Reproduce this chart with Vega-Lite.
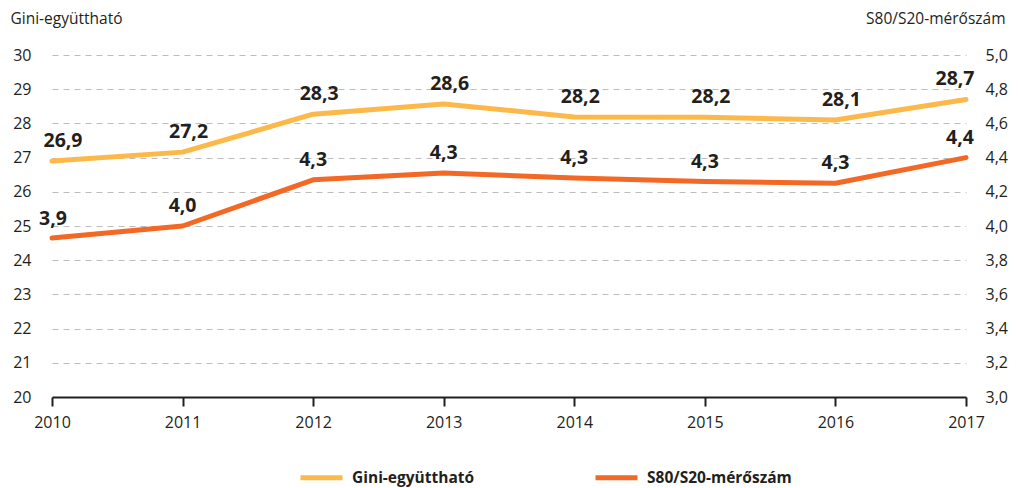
{
  "$schema": "https://vega.github.io/schema/vega-lite/v6.json",
  "autosize": "none",
  "width": 914,
  "height": 342,
  "padding": {"left": 52, "top": 55, "right": 52, "bottom": 91},
  "background": "white",
  "config": {
    "locale": {"number": {"decimal": ",", "thousands": " ", "grouping": [3], "currency": ["", ""]}},
    "font": "Open Sans",
    "view": {"stroke": null}
  },
  "data": {"values": [
    {"year": 2010, "gini": 26.9, "s80": 3.93},
    {"year": 2011, "gini": 27.16, "s80": 4.0},
    {"year": 2012, "gini": 28.27, "s80": 4.27},
    {"year": 2013, "gini": 28.57, "s80": 4.31},
    {"year": 2014, "gini": 28.19, "s80": 4.28},
    {"year": 2015, "gini": 28.18, "s80": 4.26},
    {"year": 2016, "gini": 28.1, "s80": 4.25},
    {"year": 2017, "gini": 28.7, "s80": 4.4}
  ]},
  "encoding": {
    "x": {"field": "year", "type": "quantitative", "scale": {"domain": [2010, 2017], "nice": false, "zero": false},
      "axis": {"title": null, "values": [2010, 2011, 2012, 2013, 2014, 2015, 2016, 2017], "format": "d", "grid": false, "labelFlush": false,
        "labelFont": "Open Sans", "labelFontSize": 16, "labelColor": "#231F20",
        "domainColor": "#231F20", "domainWidth": 2, "tickColor": "#231F20", "tickWidth": 2, "tickSize": 9, "labelPadding": 8}}
  },
  "layer": [
    {
      "encoding": {
        "y": {"field": "gini", "type": "quantitative", "scale": {"domain": [20, 30], "nice": false, "zero": false},
          "axis": {"orient": "left", "title": "Gini-együttható", "titleFont": "Open Sans", "titleFontSize": 15.5, "titleFontWeight": "normal", "titleColor": "#231F20",
            "titleAngle": 0, "titleAlign": "left", "titleBaseline": "middle", "titleX": -42, "titleY": -37,
            "labelFont": "Open Sans", "labelFontSize": 16, "labelColor": "#231F20",
            "values": [20, 21, 22, 23, 24, 25, 26, 27, 28, 29, 30], "format": "d", "domain": false, "ticks": false, "labelPadding": 21,
            "grid": true, "gridColor": "#BDBDBD", "gridDash": [6, 5], "gridWidth": 1}}
      },
      "layer": [
        {"mark": {"type": "line", "strokeWidth": 5, "strokeCap": "round", "strokeJoin": "round"},
          "encoding": {"color": {"datum": "Gini-együttható", "type": "nominal", "scale": {"domain": ["Gini-együttható", "S80/S20-mérőszám"], "range": ["#FDB84A", "#F26824"]},
            "legend": {"title": null, "orient": "none", "legendX": 246, "legendY": 399, "direction": "horizontal", "symbolType": "stroke", "symbolSize": 1764, "symbolStrokeWidth": 5, "labelFont": "Open Sans", "labelFontWeight": "bold", "labelFontSize": 15.5, "labelColor": "#231F20", "labelOffset": 7, "columnPadding": 110}}}},
        {"transform": [{"filter": "datum.year == 2010"}], "mark": {"type": "text", "fontWeight": "bold", "fontSize": 19.5, "color": "#231F20", "dy": -14, "dx": 11, "baseline": "alphabetic"}, "encoding": {"text": {"field": "gini", "type": "quantitative", "format": ".1f"}}},
        {"transform": [{"filter": "datum.year > 2010 && datum.year < 2017"}], "mark": {"type": "text", "fontWeight": "bold", "fontSize": 19.5, "color": "#231F20", "dy": -14, "dx": 6, "baseline": "alphabetic"}, "encoding": {"text": {"field": "gini", "type": "quantitative", "format": ".1f"}}},
        {"transform": [{"filter": "datum.year == 2017"}], "mark": {"type": "text", "fontWeight": "bold", "fontSize": 19.5, "color": "#231F20", "dy": -14, "dx": -11, "baseline": "alphabetic"}, "encoding": {"text": {"field": "gini", "type": "quantitative", "format": ".1f"}}}
      ]
    },
    {
      "encoding": {
        "y": {"field": "s80", "type": "quantitative", "scale": {"domain": [3, 5], "nice": false, "zero": false},
          "axis": {"orient": "right", "title": "S80/S20-mérőszám", "titleFont": "Open Sans", "titleFontSize": 15.5, "titleFontWeight": "normal", "titleColor": "#231F20",
            "titleAngle": 0, "titleAlign": "right", "titleBaseline": "middle", "titleX": 39, "titleY": -37,
            "labelFont": "Open Sans", "labelFontSize": 16, "labelColor": "#231F20",
            "values": [3, 3.2, 3.4, 3.6, 3.8, 4, 4.2, 4.4, 4.6, 4.8, 5], "format": ".1f", "domain": false, "ticks": false, "labelPadding": 19, "grid": false}}
      },
      "layer": [
        {"mark": {"type": "line", "strokeWidth": 5, "strokeCap": "round", "strokeJoin": "round"},
          "encoding": {"color": {"datum": "S80/S20-mérőszám", "type": "nominal"}}},
        {"transform": [{"filter": "datum.year == 2010"}], "mark": {"type": "text", "fontWeight": "bold", "fontSize": 19.5, "color": "#231F20", "dy": -13, "dx": 1, "baseline": "alphabetic"}, "encoding": {"text": {"field": "s80", "type": "quantitative", "format": ".1f"}}},
        {"transform": [{"filter": "datum.year > 2010 && datum.year < 2017"}], "mark": {"type": "text", "fontWeight": "bold", "fontSize": 19.5, "color": "#231F20", "dy": -14, "dx": 0, "baseline": "alphabetic"}, "encoding": {"text": {"field": "s80", "type": "quantitative", "format": ".1f"}}},
        {"transform": [{"filter": "datum.year == 2017"}], "mark": {"type": "text", "fontWeight": "bold", "fontSize": 19.5, "color": "#231F20", "dy": -14, "dx": -6, "baseline": "alphabetic"}, "encoding": {"text": {"field": "s80", "type": "quantitative", "format": ".1f"}}}
      ]
    }
  ],
  "resolve": {"scale": {"y": "independent", "color": "shared"}}
}
